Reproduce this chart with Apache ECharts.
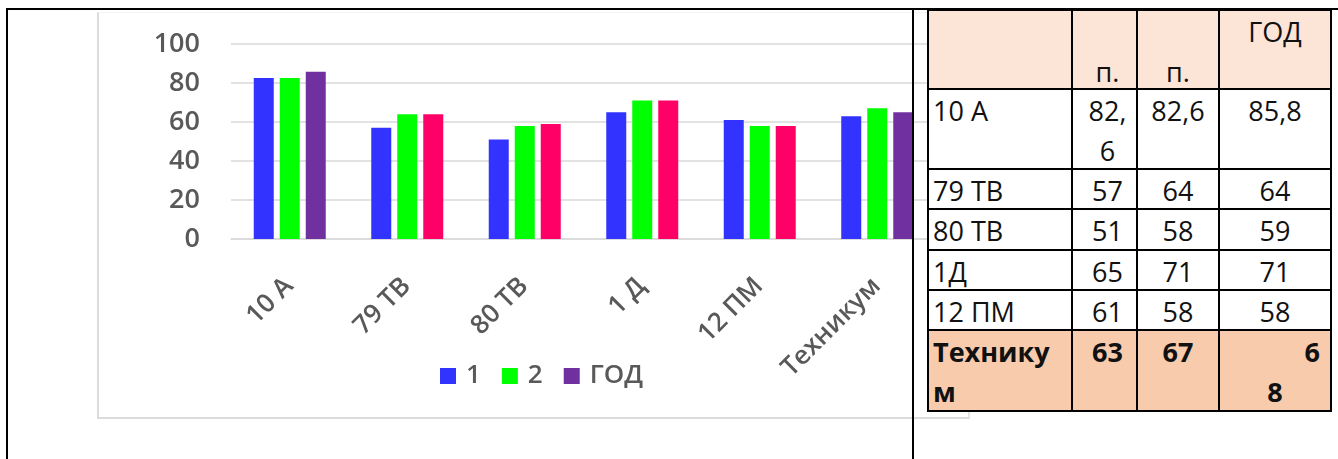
<!DOCTYPE html>
<html><head><meta charset="utf-8">
<script src="https://cdn.jsdelivr.net/npm/echarts@6/dist/echarts.min.js"></script>
<style>
html,body{margin:0;padding:0;background:#fff;width:1338px;height:459px;overflow:hidden;font-family:'Open Sans',sans-serif;}
#chart{position:absolute;left:0;top:0;width:1338px;height:459px;z-index:1;}
.frame{position:absolute;z-index:0;box-sizing:border-box;border-left:2px solid #dcdcdc;border-bottom:2px solid #dcdcdc;border-right:2px solid #e4e4e4;border-top:1px solid #f4f4f4;}
.line{position:absolute;background:#000;z-index:5;}
.cell{position:absolute;z-index:2;box-sizing:border-box;font-size:27px;line-height:40px;color:#111;padding-top:2px;white-space:nowrap;}
.tl{position:absolute;background:#000;z-index:3;}
</style></head><body>
<div class="frame" style="left:97px;top:12px;width:873px;height:407px"></div>
<div id="chart"></div>
<div id="table"></div>
<div class="line" style="left:6px;top:8px;width:2px;height:451px"></div>
<div class="line" style="left:6px;top:8px;width:1332px;height:2px"></div>
<div class="line" style="left:912px;top:8px;width:2px;height:451px"></div>
<script>
// ---- chart data ----
const categories = ['10 А', '79 ТВ', '80 ТВ', '1 Д', '12 ПМ', 'Техникум'];
const seriesNames = ['1', '2', 'ГОД'];
const values1 = [82.6, 57, 51, 65, 61, 63];
const values2 = [82.6, 64, 58, 71, 58, 67];
const valuesYear = [85.8, 64, 59, 71, 58, 65];
const yMin = 0, yMax = 100, yStep = 20;

// ---- table text ----
const tableHeader = ['', '\nп.', '\nп.', 'ГОД'];
const tableRows = [
  ['10 А', '82,\n6', '82,6', '85,8'],
  ['79 ТВ', '57', '64', '64'],
  ['80 ТВ', '51', '58', '59'],
  ['1Д', '65', '71', '71'],
  ['12 ПМ', '61', '58', '58'],
  ['Технику\nм', '63', '67', '6\n8']
];

// ---- styles ----
const colors = ['#3333FF', '#00FF00', '#7030A0'];
const yearBarColors = ['#7030A0', '#FF0066', '#FF0066', '#FF0066', '#FF0066', '#7030A0'];
const labelColor = '#595959';
const fontFamily = "'Open Sans', sans-serif";

const chart = echarts.init(document.getElementById('chart'), null, {renderer: 'canvas'});
chart.setOption({
  animation: false,
  backgroundColor: 'transparent',
  textStyle: {fontFamily: fontFamily},
  grid: {left: 231, right: 402, top: 44, bottom: 220, containLabel: false},
  legend: {
    data: seriesNames, left: 440, top: 361, padding: 0, itemWidth: 16, itemHeight: 16, itemGap: 21, icon: 'rect',
    textStyle: {fontSize: 26, fontWeight: 600, color: labelColor, padding: [0, 0, 0, 5], lineHeight: 30, fontFamily: fontFamily}
  },
  xAxis: {
    type: 'category', data: categories,
    axisLine: {lineStyle: {color: '#d9d9d9', width: 1.5}},
    axisTick: {show: false},
    axisLabel: {interval: 0, rotate: 45, fontSize: 26, fontWeight: 600, color: labelColor, margin: 24,
      align: 'right', verticalAlign: 'top', padding: [0, 14, 0, 0], fontFamily: fontFamily}
  },
  yAxis: {
    type: 'value', min: yMin, max: yMax, interval: yStep,
    axisLine: {show: false}, axisTick: {show: false},
    splitLine: {lineStyle: {color: '#d9d9d9', width: 1.5}},
    axisLabel: {fontSize: 27, fontWeight: 600, color: labelColor, margin: 31, fontFamily: fontFamily}
  },
  series: [
    {name: seriesNames[0], type: 'bar', data: values1, barWidth: 20, barGap: '30%', itemStyle: {color: colors[0]}},
    {name: seriesNames[1], type: 'bar', data: values2, barWidth: 20, barGap: '30%', itemStyle: {color: colors[1]}},
    {name: seriesNames[2], type: 'bar', barWidth: 20, barGap: '30%', itemStyle: {color: colors[2]},
      data: valuesYear.map((v, i) => ({value: v, itemStyle: {color: yearBarColors[i]}}))}
  ]
});

// ---- table layout ----
const colX = [928, 1072, 1137, 1219, 1331];
const rowY = [10, 89, 169, 209, 250, 290, 330, 411];
const tbl = document.getElementById('table');
const allRows = [tableHeader].concat(tableRows);
function esc(s) { return s.replace(/&/g, '&amp;').replace(/</g, '&lt;'); }
allRows.forEach((row, r) => {
  const last = r === allRows.length - 1;
  const bg = r === 0 ? '#FCE4D6' : (last ? '#F8CBAD' : '#FFFFFF');
  row.forEach((txt, c) => {
    const d = document.createElement('div');
    d.className = 'cell';
    d.style.left = colX[c] + 'px';
    d.style.top = rowY[r] + 'px';
    d.style.width = (colX[c + 1] - colX[c]) + 'px';
    d.style.height = (rowY[r + 1] - rowY[r]) + 'px';
    d.style.background = bg;
    if (last) d.style.fontWeight = 'bold';
    if (c === 0) { d.style.textAlign = 'left'; d.style.paddingLeft = '5px'; }
    else if (c === 1) { d.style.textAlign = 'center'; d.style.paddingLeft = '6px'; }
    else d.style.textAlign = 'center';
    const parts = txt.split('\n');
    if (last && c === 3) {
      d.innerHTML = '<div style="text-align:right;padding-right:11px">' + esc(parts[0]) + '</div><div>' + esc(parts[1]) + '</div>';
    } else {
      d.innerHTML = parts.map(p => p === '' ? '&nbsp;' : esc(p)).join('<br>');
    }
    tbl.appendChild(d);
  });
});
colX.forEach(x => {
  const l = document.createElement('div');
  l.className = 'tl';
  l.style.left = (x - 1) + 'px'; l.style.top = (rowY[0] - 1) + 'px';
  l.style.width = '2px'; l.style.height = (rowY[rowY.length - 1] - rowY[0] + 2) + 'px';
  tbl.appendChild(l);
});
rowY.forEach(y => {
  const l = document.createElement('div');
  l.className = 'tl';
  l.style.left = (colX[0] - 1) + 'px'; l.style.top = (y - 1) + 'px';
  l.style.width = (colX[colX.length - 1] - colX[0] + 2) + 'px'; l.style.height = '2px';
  tbl.appendChild(l);
});
</script>
</body></html>
